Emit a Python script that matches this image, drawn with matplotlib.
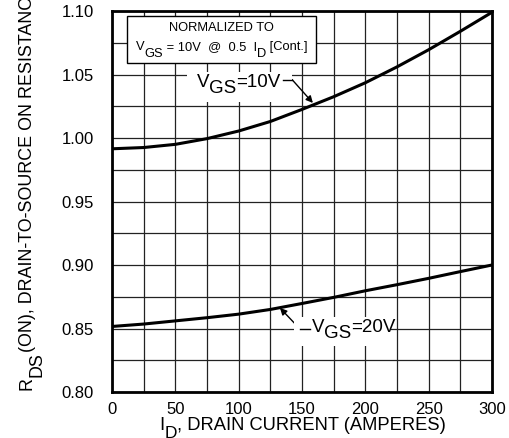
import matplotlib
matplotlib.use("Agg")
import matplotlib.pyplot as plt
from matplotlib.patches import Rectangle
from matplotlib.lines import Line2D
from matplotlib.transforms import IdentityTransform
import numpy as np

plt.rcParams['font.family'] = ['Liberation Sans', 'DejaVu Sans']

# Data
drain_current = [0, 25, 50, 75, 100, 125, 150, 175, 200, 225, 250, 275, 300]
rds_vgs10 = [0.9915, 0.9925, 0.9950, 0.9995, 1.0055, 1.0130, 1.0225, 1.0325,
             1.0435, 1.0560, 1.0695, 1.0840, 1.0990]
rds_vgs20 = [0.8516, 0.8535, 0.8560, 0.8585, 0.8613, 0.8650, 0.8697, 0.8745,
             0.8797, 0.8845, 0.8895, 0.8948, 0.9000]
x_ticks = [0, 50, 100, 150, 200, 250, 300]
y_ticks = [0.80, 0.85, 0.90, 0.95, 1.00, 1.05, 1.10]
x_tick_labels = ["0", "50", "100", "150", "200", "250", "300"]
y_tick_labels = ["0.80", "0.85", "0.90", "0.95", "1.00", "1.05", "1.10"]

W, H = 509, 438
fig = plt.figure(figsize=(W / 100, H / 100), dpi=100)
L, R, T, B = 112, 492, 11, 392
ax = fig.add_axes([L / W, 1 - B / H, (R - L) / W, (B - T) / H])
renderer = fig.canvas.get_renderer()
ID = IdentityTransform()


def seg_width(txt, fs):
    t1 = fig.text(0, 0, "|" + txt + "|", fontsize=fs)
    t2 = fig.text(0, 0, "||", fontsize=fs)
    w = t1.get_window_extent(renderer).width - t2.get_window_extent(renderer).width
    t1.remove()
    t2.remove()
    return w


def rich(x, y, segs, size, ha='left', rotation=0, zorder=7):
    """segs: (text, scale, drop_px). x,y in reference pixels (top-left origin)."""
    widths = [seg_width(t, size * s) for t, s, d in segs]
    total = sum(widths)
    pos = -total / 2 if ha == 'center' else 0
    for (t, s, d), w in zip(segs, widths):
        if rotation == 0:
            px, py = x + pos, H - (y + d)
        else:
            px, py = x + d, H - (y - pos)
        fig.text(px, py, t, fontsize=size * s, ha='left', va='baseline',
                 rotation=rotation, rotation_mode='anchor',
                 transform=ID, zorder=zorder)
        pos += w


def leader(p_text, p_knee, tip_data):
    fig.lines.append(Line2D([p_text[0], p_knee[0]], [H - p_text[1], H - p_knee[1]],
                            transform=ID, color='black', linewidth=1.0, zorder=8))
    ax.annotate("", xy=tip_data, xytext=(p_knee[0], H - p_knee[1]),
                xycoords='data', textcoords=ID,
                arrowprops=dict(arrowstyle='-|>', color='black', linewidth=1.0,
                                mutation_scale=10, shrinkA=0, shrinkB=0),
                zorder=8)


ax.set_xlim(0, 300)
ax.set_ylim(0.80, 1.10)
ax.set_xticks(x_ticks)
ax.set_xticklabels(x_tick_labels)
ax.set_yticks(y_ticks)
ax.set_yticklabels(y_tick_labels)
ax.set_xticks(np.arange(0, 301, 25), minor=True)
ax.set_yticks(np.arange(0.80, 1.1001, 0.025), minor=True)
ax.grid(True, which='both', color='#222222', linewidth=0.9)
ax.set_axisbelow(True)
ax.tick_params(which='both', length=0, labelsize=12, colors='black')
ax.tick_params(axis='y', pad=13)
ax.tick_params(axis='x', pad=7)
for s in ax.spines.values():
    s.set_linewidth(2.0)
    s.set_color('black')
    s.set_zorder(10)

ax.plot(drain_current, rds_vgs10, color='black', linewidth=2.2, zorder=5)
ax.plot(drain_current, rds_vgs20, color='black', linewidth=2.2, zorder=5)

# Normalization box
bx0, bx1, by0, by1 = 127, 316, 16, 63
fig.patches.append(Rectangle((bx0, H - by1), bx1 - bx0, by1 - by0,
                             transform=ID, facecolor='white',
                             edgecolor='black', linewidth=1.0, zorder=6))
fig.text((bx0 + bx1) / 2, H - 30.7, "NORMALIZED TO", ha='center', va='baseline',
         fontsize=9.3, transform=ID, zorder=7)
rich((bx0 + bx1) / 2, 50, [("V", 1, 0), ("GS", 1, 7), (" = 10V  @  0.5  I", 1, 0),
                           ("D", 1, 7), (" [Cont.]", 1, 0)], 9.3, ha='center')

# White backgrounds behind curve labels
fig.patches.append(Rectangle((187, H - 102), 105, 30, transform=ID,
                             facecolor='white', edgecolor='none', zorder=6))
fig.patches.append(Rectangle((294, H - 346), 97, 29, transform=ID,
                             facecolor='white', edgecolor='none', zorder=6))

# VGS=10V annotation
rich(196.5, 87.3, [("V", 1, 0), ("GS", 1, 6), ("=10V", 1, 0)], 13.5)
leader((283, 79.5), (292, 79.5), (158.6, 1.0276))

# VGS=20V annotation
rich(311.5, 331.7, [("V", 1, 0), ("GS", 1, 6), ("=20V", 1, 0)], 13.5)
leader((310, 329), (300, 329), (132.6, 0.8662))

# Axis labels
rich(159.3, 430, [("I", 1, 0), ("D", 0.95, 8), (", DRAIN CURRENT (AMPERES)", 1, 0)], 13.2)
rich(31.5, 390, [("R", 1, 0), ("DS", 1, 10), ("(ON), DRAIN-TO-SOURCE ON RESISTANCE", 1, 0)],
     12.9, rotation=90)

fig.savefig("out.png", dpi=100)
